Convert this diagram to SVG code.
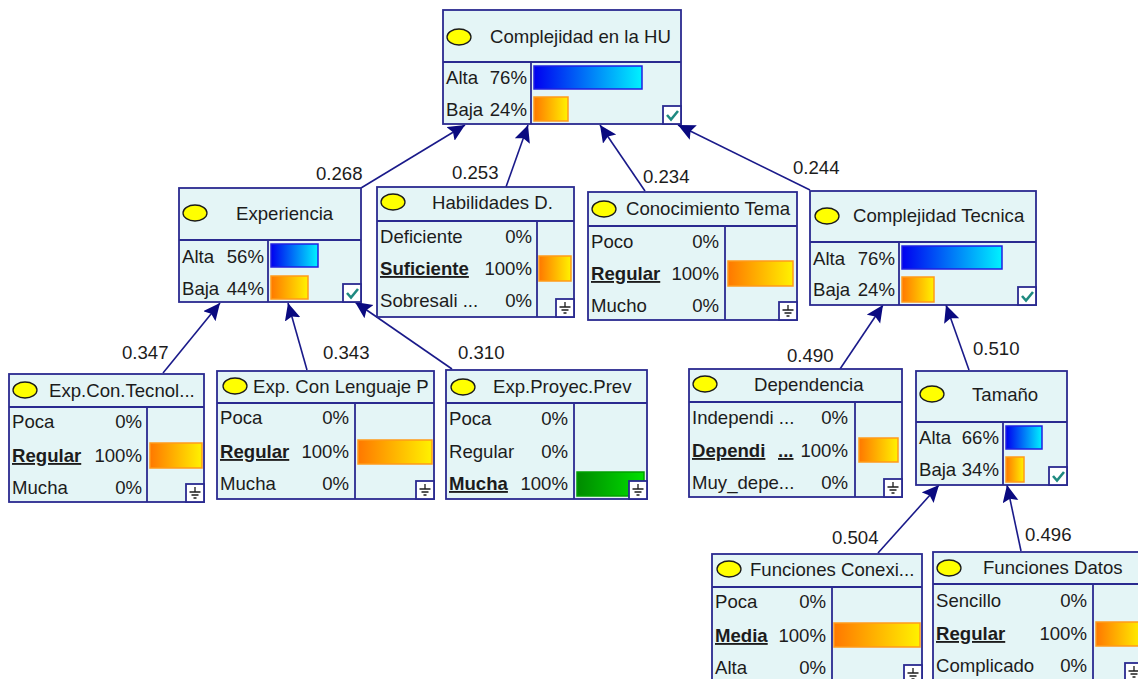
<svg xmlns="http://www.w3.org/2000/svg" width="1138" height="679" viewBox="0 0 1138 679">
<style>
.box{fill:#E4F5F6;stroke:#2A2A90;stroke-width:1.8}
.sep{stroke:#2A2A90;stroke-width:1.8;fill:none}
.ell{fill:#FFFF00;stroke:#1a1a1a;stroke-width:1.3}
.t{font-family:"Liberation Sans",Arial,sans-serif;font-size:18.6px;fill:#1c1c1c}
.r{text-anchor:end}
.b{font-weight:bold;text-decoration:underline}
.bb{stroke:#2020E0;stroke-width:1.5;fill:url(#gBlue)}
.bo{stroke:#FF9A1A;stroke-width:1.5;fill:url(#gOrange)}
.bg{stroke:#00A000;stroke-width:1.5;fill:url(#gGreen)}
.edge{stroke:#1A1A8A;stroke-width:1.6;fill:none;marker-end:url(#arr)}
</style>
<defs>
<linearGradient id="gBlue"><stop offset="0" stop-color="#0000F0"/><stop offset="1" stop-color="#00F2FF"/></linearGradient>
<linearGradient id="gOrange"><stop offset="0" stop-color="#FF7800"/><stop offset="1" stop-color="#FFF200"/></linearGradient>
<linearGradient id="gGreen"><stop offset="0" stop-color="#008A00"/><stop offset="1" stop-color="#00E000"/></linearGradient>
<marker id="arr" markerUnits="userSpaceOnUse" markerWidth="20" markerHeight="18" refX="17" refY="8" orient="auto"><path d="M0,0 L17,8 L0,16 L3,8 z" fill="#0A0A80"/></marker>
<g id="chk"><rect x="0" y="0" width="18" height="18" fill="#fff" stroke="#2A2A90" stroke-width="1.8"/><path d="M4,9 L8,13.5 L15,5" fill="none" stroke="#1F8A80" stroke-width="2.6"/></g>
<g id="gnd"><rect x="0" y="0" width="18" height="18" fill="#fff" stroke="#2A2A90" stroke-width="1.8"/><path d="M9,3 V8 M3.5,8 H14.5 M5.5,11 H12.5 M7.5,14 H10.5" fill="none" stroke="#1c1c1c" stroke-width="1.3"/></g>
</defs>

<g id="connectors">
<path class="edge" d="M361,188 L465,125"/>
<path class="edge" d="M506,187 L528,125"/>
<path class="edge" d="M645,191 L600,125"/>
<path class="edge" d="M810,190 L678,125"/>
<path class="edge" d="M163,373 L220,303"/>
<path class="edge" d="M307,370 L288,303"/>
<path class="edge" d="M452,369 L355,302"/>
<path class="edge" d="M840,369 L883,305"/>
<path class="edge" d="M969,370 L946,305"/>
<path class="edge" d="M878,553 L939,485"/>
<path class="edge" d="M1021,551 L1007,485"/>
<text class="t" x="316" y="180">0.268</text>
<text class="t" x="452" y="179">0.253</text>
<text class="t" x="643" y="183">0.234</text>
<text class="t" x="793" y="174">0.244</text>
<text class="t" x="122" y="359">0.347</text>
<text class="t" x="323" y="359">0.343</text>
<text class="t" x="458" y="359">0.310</text>
<text class="t" x="787" y="362">0.490</text>
<text class="t" x="973" y="355">0.510</text>
<text class="t" x="832" y="544">0.504</text>
<text class="t" x="1025" y="541">0.496</text>
</g>

<g id="n-complejidad-hu">
<rect class="box" x="443" y="10" width="238" height="114"/>
<path class="sep" d="M443,62 H681 M531,62 V124"/>
<ellipse class="ell" cx="459" cy="37" rx="12" ry="8"/>
<text class="t" x="490" y="43">Complejidad en la HU</text>
<text class="t" x="446" y="84">Alta</text><text class="t r" x="527" y="84">76%</text>
<text class="t" x="446" y="116">Baja</text><text class="t r" x="527" y="116">24%</text>
<rect class="bb" x="534" y="66" width="108" height="23"/>
<rect class="bo" x="534" y="97" width="34" height="24"/>
<use href="#chk" x="663" y="106"/>
</g>

<g id="n-experiencia">
<rect class="box" x="179" y="188" width="182" height="114"/>
<path class="sep" d="M179,240 H361 M268,240 V302"/>
<ellipse class="ell" cx="195" cy="213" rx="12" ry="8"/>
<text class="t" x="236" y="220">Experiencia</text>
<text class="t" x="182" y="263">Alta</text><text class="t r" x="264" y="263">56%</text>
<text class="t" x="182" y="295">Baja</text><text class="t r" x="264" y="295">44%</text>
<rect class="bb" x="271" y="244" width="47" height="23"/>
<rect class="bo" x="271" y="276" width="37" height="23"/>
<use href="#chk" x="343" y="284"/>
</g>

<g id="n-habilidades">
<rect class="box" x="377" y="187" width="197" height="130"/>
<path class="sep" d="M377,221 H574 M537,221 V317"/>
<ellipse class="ell" cx="393" cy="202" rx="12" ry="8"/>
<text class="t" x="432" y="209">Habilidades D.</text>
<text class="t" x="380" y="243">Deficiente</text><text class="t r" x="532" y="243">0%</text>
<text class="t b" x="380" y="275">Suficiente</text><text class="t r" x="532" y="275">100%</text>
<text class="t" x="380" y="307">Sobresali ...</text><text class="t r" x="532" y="307">0%</text>
<rect class="bo" x="539" y="256" width="32" height="25"/>
<use href="#gnd" x="556" y="299"/>
</g>

<g id="n-conocimiento">
<rect class="box" x="588" y="192" width="209" height="128"/>
<path class="sep" d="M588,226 H797 M725,226 V320"/>
<ellipse class="ell" cx="604" cy="209" rx="12" ry="8"/>
<text class="t" x="626" y="215">Conocimiento Tema</text>
<text class="t" x="591" y="248">Poco</text><text class="t r" x="719" y="248">0%</text>
<text class="t b" x="591" y="280">Regular</text><text class="t r" x="719" y="280">100%</text>
<text class="t" x="591" y="312">Mucho</text><text class="t r" x="719" y="312">0%</text>
<rect class="bo" x="728" y="261" width="65" height="25"/>
<use href="#gnd" x="779" y="302"/>
</g>

<g id="n-complejidad-tecnica">
<rect class="box" x="810" y="191" width="226" height="114"/>
<path class="sep" d="M810,242 H1036 M899,242 V305"/>
<ellipse class="ell" cx="827" cy="216" rx="12" ry="8"/>
<text class="t" x="853" y="222">Complejidad Tecnica</text>
<text class="t" x="813" y="265">Alta</text><text class="t r" x="895" y="265">76%</text>
<text class="t" x="813" y="296">Baja</text><text class="t r" x="895" y="296">24%</text>
<rect class="bb" x="902" y="246" width="100" height="23"/>
<rect class="bo" x="902" y="277" width="32" height="25"/>
<use href="#chk" x="1018" y="287"/>
</g>

<g id="n-exp-con-tecnol">
<rect class="box" x="9" y="374" width="195" height="128"/>
<path class="sep" d="M9,407 H204 M147,407 V502"/>
<ellipse class="ell" cx="25" cy="390" rx="12" ry="8"/>
<text class="t" x="49" y="397">Exp.Con.Tecnol...</text>
<text class="t" x="12" y="428">Poca</text><text class="t r" x="142" y="428">0%</text>
<text class="t b" x="12" y="462">Regular</text><text class="t r" x="142" y="462">100%</text>
<text class="t" x="12" y="494">Mucha</text><text class="t r" x="142" y="494">0%</text>
<rect class="bo" x="150" y="443" width="52" height="25"/>
<use href="#gnd" x="186" y="484"/>
</g>

<g id="n-exp-con-lenguaje">
<rect class="box" x="217" y="371" width="217" height="128"/>
<path class="sep" d="M217,403 H434 M355,403 V499"/>
<ellipse class="ell" cx="235" cy="386" rx="12" ry="8"/>
<text class="t" x="253" y="393">Exp. Con Lenguaje P</text>
<text class="t" x="220" y="424">Poca</text><text class="t r" x="349" y="424">0%</text>
<text class="t b" x="220" y="458">Regular</text><text class="t r" x="349" y="458">100%</text>
<text class="t" x="220" y="490">Mucha</text><text class="t r" x="349" y="490">0%</text>
<rect class="bo" x="358" y="440" width="74" height="24"/>
<use href="#gnd" x="416" y="481"/>
</g>

<g id="n-exp-proyec">
<rect class="box" x="446" y="370" width="201" height="129"/>
<path class="sep" d="M446,403 H647 M574,403 V499"/>
<ellipse class="ell" cx="463" cy="387" rx="12" ry="8"/>
<text class="t" x="493" y="393">Exp.Proyec.Prev</text>
<text class="t" x="449" y="425">Poca</text><text class="t r" x="568" y="425">0%</text>
<text class="t" x="449" y="458">Regular</text><text class="t r" x="568" y="458">0%</text>
<text class="t b" x="449" y="490">Mucha</text><text class="t r" x="568" y="490">100%</text>
<rect class="bg" x="577" y="472" width="67" height="24"/>
<use href="#gnd" x="629" y="481"/>
</g>

<g id="n-dependencia">
<rect class="box" x="689" y="369" width="213" height="128"/>
<path class="sep" d="M689,402 H902 M855,402 V497"/>
<ellipse class="ell" cx="705" cy="384" rx="12" ry="8"/>
<text class="t" x="754" y="391">Dependencia</text>
<text class="t" x="692" y="424">Independi ...</text><text class="t r" x="848" y="424">0%</text>
<text class="t" y="457"><tspan class="b" x="692">Dependi</tspan><tspan class="b" x="778">...</tspan></text><text class="t r" x="848" y="457">100%</text>
<text class="t" x="692" y="489">Muy_depe...</text><text class="t r" x="848" y="489">0%</text>
<rect class="bo" x="859" y="438" width="39" height="24"/>
<use href="#gnd" x="884" y="479"/>
</g>

<g id="n-tamano">
<rect class="box" x="916" y="371" width="151" height="114"/>
<path class="sep" d="M916,422 H1067 M1003,422 V485"/>
<ellipse class="ell" cx="932" cy="394" rx="12" ry="8"/>
<text class="t" x="972" y="401">Tamaño</text>
<text class="t" x="919" y="444">Alta</text><text class="t r" x="999" y="444">66%</text>
<text class="t" x="919" y="476">Baja</text><text class="t r" x="999" y="476">34%</text>
<rect class="bb" x="1006" y="426" width="36" height="23"/>
<rect class="bo" x="1006" y="457" width="18" height="25"/>
<use href="#chk" x="1049" y="467"/>
</g>

<g id="n-funciones-conexi">
<rect class="box" x="712" y="554" width="210" height="140"/>
<path class="sep" d="M712,587 H922 M832,587 V694"/>
<ellipse class="ell" cx="729" cy="569" rx="12" ry="8"/>
<text class="t" x="750" y="576">Funciones Conexi...</text>
<text class="t" x="715" y="608">Poca</text><text class="t r" x="826" y="608">0%</text>
<text class="t b" x="715" y="642">Media</text><text class="t r" x="826" y="642">100%</text>
<text class="t" x="715" y="674">Alta</text><text class="t r" x="826" y="674">0%</text>
<rect class="bo" x="834" y="623" width="86" height="24"/>
<use href="#gnd" x="904" y="665"/>
</g>

<g id="n-funciones-datos">
<rect class="box" x="933" y="552" width="210" height="140"/>
<path class="sep" d="M933,584 H1143 M1093,584 V692"/>
<ellipse class="ell" cx="949" cy="568" rx="12" ry="8"/>
<text class="t" x="983" y="574">Funciones Datos</text>
<text class="t" x="936" y="607">Sencillo</text><text class="t r" x="1087" y="607">0%</text>
<text class="t b" x="936" y="640">Regular</text><text class="t r" x="1087" y="640">100%</text>
<text class="t" x="936" y="672">Complicado</text><text class="t r" x="1087" y="672">0%</text>
<rect class="bo" x="1096" y="622" width="46" height="24"/>
<use href="#gnd" x="1125" y="663"/>
</g>
</svg>
